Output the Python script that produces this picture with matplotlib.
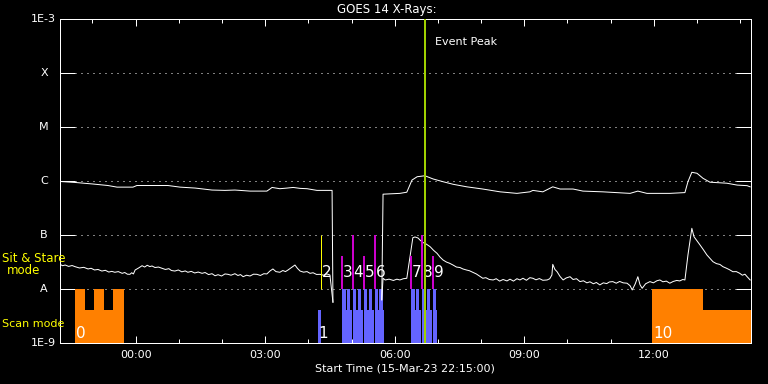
import numpy as np
import matplotlib
matplotlib.use("Agg")
import matplotlib.pyplot as plt
from matplotlib.ticker import FixedLocator, NullLocator


DPI = 100
FIGSIZE = (7.68, 3.84)
FONTSIZE_TICKS = 8
FONTSIZE_EVENTS = 11
LW_PX = 0.72  # one pixel in points at 100 dpi
COLORS = dict(bg='black', fg='white', scan='#FF8000', stare='#6464FF',
              peak='#A0D000', first='#FFFF00', event='#CC00CC',
              label='#FFFF00')

# time axis: hours after 15-Mar-23 22:15:00
T_END = 16.0
TICK_HOURS = [1.75, 4.75, 7.75, 10.75, 13.75]
TICK_LABELS = ["00:00", "03:00", "06:00", "09:00", "12:00"]
MINOR_HOURS = [0.75, 2.75, 3.75, 5.75, 6.75, 8.75, 9.75, 11.75, 12.75,
               14.75, 15.75]
LEVELS = [1e-9, 1e-8, 1e-7, 1e-6, 1e-5, 1e-4, 1e-3]
LEVEL_NAMES = ["1E-9", "A", "B", "C", "M", "X", "1E-3"]

# GOES 1-8 A channel (nan = data gap)
LONG_T = [0.00, 0.35, 0.76, 1.11, 1.32, 1.69, 1.78, 2.50, 2.78, 3.13, 3.52,
          3.82, 4.05, 4.40, 4.79, 4.86, 4.91, 5.09, 5.26, 5.40, 5.56, 5.72,
          5.95, 6.25, 6.30, 6.32, 6.90, 7.45, 7.48, 7.87, 8.03, 8.15, 8.27,
          8.45, 8.64, 8.87, 9.10, 9.42, 9.79, 10.19, 10.58, 10.88, 10.95,
          11.18, 11.41, 11.58, 11.88, 12.11, 12.57, 13.20, 13.38, 13.59,
          14.12, 14.47, 14.54, 14.63, 14.75, 14.89, 15.05, 15.44, 15.68,
          15.91, 15.98]
LONG_F = [9.8e-7, 9.4e-7, 8.8e-7, 8.25e-7, 7.7e-7, 7.7e-7, 8.25e-7, 8.25e-7,
          7.7e-7, 7.4e-7, 6.8e-7, 6.7e-7, 6.8e-7, 6.5e-7, 6.5e-7, 7.1e-7,
          7.6e-7, 7.2e-7, 7.4e-7, 7.6e-7, 7.3e-7, 7.2e-7, 6.7e-7, 6.7e-7,
          6.7e-7, 5.7e-9, np.nan, 6.3e-9, 5.7e-7, 5.9e-7, 6.2e-7, 1.04e-6,
          1.2e-6, 1.25e-6, 1.09e-6, 9.7e-7, 8.7e-7, 7.8e-7, 7.1e-7, 6.3e-7,
          5.9e-7, 6.3e-7, 6.7e-7, 6.3e-7, 7.8e-7, 7.1e-7, 7.1e-7, 6.5e-7,
          6.3e-7, 5.9e-7, 6.5e-7, 5.9e-7, 5.9e-7, 6.1e-7, 9.7e-7, 1.45e-6,
          1.39e-6, 1.12e-6, 9.5e-7, 9.1e-7, 8.4e-7, 8.2e-7, 7.8e-7]

# GOES 0.5-4 A channel
SHORT_T = [0.00, 0.06, 0.12, 0.20, 0.28, 0.35, 0.45, 0.55, 0.65, 0.72, 0.80,
           0.88, 0.97, 1.05, 1.13, 1.20, 1.27, 1.35, 1.44, 1.50, 1.56, 1.62,
           1.66, 1.70, 1.74, 1.82, 1.90, 1.96, 2.02, 2.08, 2.13, 2.20, 2.28,
           2.36, 2.44, 2.52, 2.58, 2.66, 2.74, 2.82, 2.90, 2.96, 3.04, 3.12,
           3.20, 3.29, 3.36, 3.44, 3.52, 3.59, 3.66, 3.74, 3.82, 3.89, 3.96,
           4.05, 4.12, 4.18, 4.24, 4.32, 4.40, 4.48, 4.56, 4.64, 4.72, 4.79,
           4.86, 4.93, 5.00, 5.09, 5.16, 5.22, 5.28, 5.36, 5.44, 5.50, 5.56,
           5.64, 5.72, 5.79, 5.86, 5.94, 6.02, 6.10, 6.18, 6.25, 6.32, 6.90,
           7.45, 7.48, 7.53, 7.62, 7.72, 7.80, 7.87, 7.95, 8.03, 8.10, 8.17,
           8.22, 8.29, 8.34, 8.40, 8.48, 8.57, 8.65, 8.73, 8.80, 8.87, 8.95,
           9.02, 9.10, 9.18, 9.26, 9.33, 9.41, 9.48, 9.56, 9.64, 9.72, 9.79,
           9.86, 9.94, 10.03, 10.10, 10.18, 10.26, 10.35, 10.42, 10.50, 10.58,
           10.65, 10.72, 10.80, 10.88, 10.95, 11.02, 11.10, 11.18, 11.28,
           11.34, 11.39, 11.41, 11.46, 11.51, 11.58, 11.65, 11.72, 11.81,
           11.88, 11.96, 12.04, 12.12, 12.20, 12.27, 12.35, 12.42, 12.50,
           12.58, 12.66, 12.72, 12.80, 12.88, 12.96, 13.04, 13.13, 13.20,
           13.25, 13.32, 13.38, 13.43, 13.48, 13.56, 13.62, 13.66, 13.74,
           13.82, 13.89, 13.96, 14.04, 14.12, 14.20, 14.28, 14.35, 14.42,
           14.47, 14.54, 14.63, 14.68, 14.75, 14.82, 14.90, 14.98, 15.05,
           15.12, 15.20, 15.28, 15.35, 15.42, 15.50, 15.58, 15.66, 15.74,
           15.80, 15.86, 15.91, 15.98]
SHORT_F = [2.86e-8, 2.70e-8, 2.78e-8, 2.62e-8, 2.72e-8, 2.59e-8, 2.45e-8,
           2.52e-8, 2.35e-8, 2.42e-8, 2.25e-8, 2.30e-8, 2.15e-8, 2.22e-8,
           2.06e-8, 2.12e-8, 2.04e-8, 2.10e-8, 1.95e-8, 2.02e-8, 1.88e-8,
           1.87e-8, 2.00e-8, 1.90e-8, 2.25e-8, 2.45e-8, 2.70e-8, 2.55e-8,
           2.75e-8, 2.60e-8, 2.67e-8, 2.50e-8, 2.55e-8, 2.42e-8, 2.30e-8,
           2.38e-8, 2.20e-8, 2.15e-8, 2.25e-8, 2.08e-8, 2.16e-8, 2.04e-8,
           2.12e-8, 1.98e-8, 2.06e-8, 1.95e-8, 2.02e-8, 1.85e-8, 1.92e-8,
           1.76e-8, 1.84e-8, 1.74e-8, 1.90e-8, 1.87e-8, 1.80e-8, 1.92e-8,
           1.78e-8, 1.85e-8, 1.69e-8, 1.80e-8, 1.74e-8, 1.88e-8, 1.87e-8,
           1.78e-8, 1.92e-8, 1.90e-8, 2.15e-8, 2.35e-8, 2.10e-8, 2.04e-8,
           2.20e-8, 2.10e-8, 2.25e-8, 2.50e-8, 2.78e-8, 2.40e-8, 2.15e-8,
           2.05e-8, 2.10e-8, 1.95e-8, 2.00e-8, 1.86e-8, 1.87e-8, 1.80e-8,
           1.90e-8, 1.82e-8, 5.7e-9, np.nan,
           6.3e-9, 1.58e-8, 1.47e-8, 1.52e-8, 1.44e-8, 1.52e-8, 1.47e-8,
           1.55e-8, 1.58e-8, 3.7e-8, 8.9e-8, 9.2e-8, 8.8e-8, 8.0e-8, 7.3e-8,
           6.8e-8, 6.07e-8, 5.2e-8, 4.58e-8, 3.9e-8, 3.44e-8, 3.15e-8, 3.0e-8,
           2.78e-8, 2.55e-8, 2.50e-8, 2.35e-8, 2.25e-8, 2.18e-8, 2.04e-8,
           1.90e-8, 1.72e-8, 1.58e-8, 1.62e-8, 1.50e-8, 1.47e-8, 1.55e-8,
           1.40e-8, 1.50e-8, 1.41e-8, 1.52e-8, 1.40e-8, 1.55e-8, 1.47e-8,
           1.58e-8, 1.45e-8, 1.62e-8, 1.58e-8, 1.48e-8, 1.56e-8, 1.45e-8,
           1.47e-8, 1.55e-8, 1.82e-8, 2.86e-8, 2.3e-8, 2.09e-8, 1.7e-8,
           1.47e-8, 1.60e-8, 1.69e-8, 1.50e-8, 1.55e-8, 1.37e-8, 1.42e-8,
           1.30e-8, 1.36e-8, 1.25e-8, 1.32e-8, 1.19e-8, 1.30e-8, 1.26e-8,
           1.35e-8, 1.37e-8, 1.28e-8, 1.38e-8, 1.30e-8, 1.28e-8, 1.15e-8,
           9.6e-9, 1.25e-8, 1.69e-8, 1.20e-8, 1.03e-8, 1.25e-8, 1.32e-8,
           1.37e-8, 1.30e-8, 1.42e-8, 1.47e-8, 1.36e-8, 1.40e-8, 1.28e-8,
           1.38e-8, 1.44e-8, 1.41e-8, 1.50e-8, 1.47e-8, 4.26e-8, 1.33e-7,
           9.3e-8, 7.8e-8, 6.53e-8, 5.3e-8, 4.26e-8, 3.7e-8, 3.2e-8, 2.95e-8,
           2.85e-8, 2.59e-8, 2.45e-8, 2.28e-8, 2.09e-8, 2.10e-8, 1.95e-8,
           1.80e-8, 1.88e-8, 1.69e-8, 1.47e-8]

# IRIS observation blocks: start, end, top level, mode
OBS_START = [0.35, 0.58, 0.79, 1.02, 1.23, 13.71, 14.88,
             5.97,
             6.53, 6.615, 6.645, 6.725, 6.78, 6.865, 6.895, 6.98,
             7.04, 7.12, 7.145, 7.225, 7.29, 7.37, 7.395, 7.47,
             8.13, 8.21, 8.24, 8.32, 8.38, 8.46, 8.49, 8.57, 8.63, 8.71]
OBS_END = [0.58, 0.79, 1.02, 1.23, 1.48, 14.88, 16.0,
           6.04,
           6.615, 6.645, 6.725, 6.76, 6.865, 6.895, 6.98, 7.02,
           7.12, 7.145, 7.225, 7.27, 7.37, 7.395, 7.47, 7.50,
           8.21, 8.24, 8.32, 8.36, 8.46, 8.49, 8.57, 8.61, 8.71, 8.73]
OBS_TOP = [1e-8, 4e-9, 1e-8, 4e-9, 1e-8, 1e-8, 4e-9,
           4e-9,
           1e-8, 4e-9, 1e-8, 4e-9, 1e-8, 4e-9, 1e-8, 4e-9,
           1e-8, 4e-9, 1e-8, 4e-9, 1e-8, 4e-9, 1e-8, 4e-9,
           1e-8, 4e-9, 1e-8, 4e-9, 1e-8, 4e-9, 1e-8, 4e-9, 1e-8, 4e-9]
OBS_MODE = ["scan"] * 7 + ["stare"] * 27

# numbered observations
SCAN_NUM = ["0", "1", "10"]
SCAN_NUM_T = [0.35, 5.97, 13.71]
EVENT_NUM = ["2", "3", "4", "5", "6", "7", "8", "9"]
EVENT_T = [6.04, 6.52, 6.78, 7.03, 7.29, 8.12, 8.38, 8.63]
EVENT_TOP = [1e-7, 4e-8, 1e-7, 4e-8, 1e-7, 4e-8, 1e-7, 4e-8]
EVENT_PEAK = 8.44


def xray_plot():
    fig = plt.figure(figsize=FIGSIZE, dpi=DPI, facecolor=COLORS['bg'])
    ax = fig.add_axes([60/768, 41/384, 691/768, 324/384])
    ax.set_facecolor(COLORS['bg'])
    ax.set_yscale('log')
    ax.set_xlim(0, T_END)
    ax.set_ylim(LEVELS[0], LEVELS[-1])

    # dotted level lines
    for lv in LEVELS[1:-1]:
        ax.axhline(lv, xmin=15/691, xmax=676/691, color=COLORS['fg'],
                   lw=LW_PX, ls=(0, (1, 5)), zorder=1)

    # observation blocks
    for t0, t1, top, mode in zip(OBS_START, OBS_END, OBS_TOP, OBS_MODE):
        ax.bar(t0, top - LEVELS[0], width=t1 - t0, bottom=LEVELS[0],
               align='edge', color=COLORS[mode], lw=0, antialiased=False,
               zorder=2)

    # GOES curves
    ax.plot(LONG_T, LONG_F, c=COLORS['fg'], lw=LW_PX, zorder=3)
    ax.plot(SHORT_T, SHORT_F, c=COLORS['fg'], lw=LW_PX, zorder=3)

    # event markers
    for i in range(len(EVENT_T)):
        c = COLORS['first'] if i == 0 else COLORS['event']
        w = LW_PX if i == 0 else 2 * LW_PX
        ax.plot([EVENT_T[i], EVENT_T[i]], [1e-8, EVENT_TOP[i]], c=c, lw=w,
                solid_capstyle='butt', zorder=4)
        ax.text(EVENT_T[i] + 0.02, 2.05e-8, EVENT_NUM[i], color=COLORS['fg'],
                fontsize=FONTSIZE_EVENTS, ha='left', va='center', zorder=5)
    for s, t in zip(SCAN_NUM, SCAN_NUM_T):
        ax.text(t + 0.02, 1.53e-9, s, color=COLORS['fg'],
                fontsize=FONTSIZE_EVENTS, ha='left', va='center', zorder=5)

    ax.axvline(EVENT_PEAK, color=COLORS['peak'], lw=2 * LW_PX, zorder=6)
    ax.text(EVENT_PEAK + 0.24, 3.7e-4, "Event Peak", color=COLORS['fg'],
            fontsize=FONTSIZE_TICKS, ha='left', va='center')

    # axes styling
    for sp in ax.spines.values():
        sp.set_color(COLORS['fg'])
        sp.set_linewidth(LW_PX)
    ax.yaxis.set_major_locator(FixedLocator(LEVELS))
    ax.yaxis.set_minor_locator(NullLocator())
    ax.tick_params(axis='y', which='major', direction='in', length=15*LW_PX,
                   width=LW_PX, color=COLORS['fg'], left=True, right=True,
                   labelleft=False)
    ax.set_xticks(TICK_HOURS)
    ax.set_xticklabels(TICK_LABELS)
    ax.xaxis.set_minor_locator(FixedLocator(MINOR_HOURS))
    ax.tick_params(axis='x', which='major', direction='in', length=7*LW_PX,
                   width=LW_PX, color=COLORS['fg'], top=True, bottom=True,
                   labelcolor=COLORS['fg'], labelsize=FONTSIZE_TICKS, pad=5)
    ax.tick_params(axis='x', which='minor', direction='in', length=4*LW_PX,
                   width=LW_PX, color=COLORS['fg'], top=True, bottom=True)

    ytr = ax.get_yaxis_transform()
    for lv, name in zip(LEVELS, LEVEL_NAMES):
        if name.startswith("1E"):
            ax.text(-4/691, lv, name, transform=ytr, color=COLORS['fg'],
                    fontsize=FONTSIZE_TICKS, ha='right', va='center')
        else:
            ax.text(-16/691, lv, name, transform=ytr, color=COLORS['fg'],
                    fontsize=FONTSIZE_TICKS, ha='center', va='center')

    fig.text(387/768, 1 - 9.5/384, "GOES 14 X-Rays:", color=COLORS['fg'],
             fontsize=FONTSIZE_TICKS + 0.5, ha='center', va='center')
    fig.text(405/768, 1 - 368.5/384, "Start Time (15-Mar-23 22:15:00)",
             color=COLORS['fg'], fontsize=FONTSIZE_TICKS, ha='center',
             va='center')
    fig.text(2/768, 1 - 259/384, "Sit & Stare", color=COLORS['label'],
             fontsize=FONTSIZE_TICKS + 0.5, ha='left', va='center')
    fig.text(24/768, 1 - 271/384, "mode", color=COLORS['label'],
             fontsize=FONTSIZE_TICKS + 0.5, ha='center', va='center')
    fig.text(2/768, 1 - 324/384, "Scan mode", color=COLORS['label'],
             fontsize=FONTSIZE_TICKS, ha='left', va='center')

    fig.savefig("out.png", dpi=DPI, facecolor=COLORS['bg'])
    plt.close(fig)

    return None


def main():
    xray_plot()

    return None


if __name__ == "__main__":
    main()

# End of file.
